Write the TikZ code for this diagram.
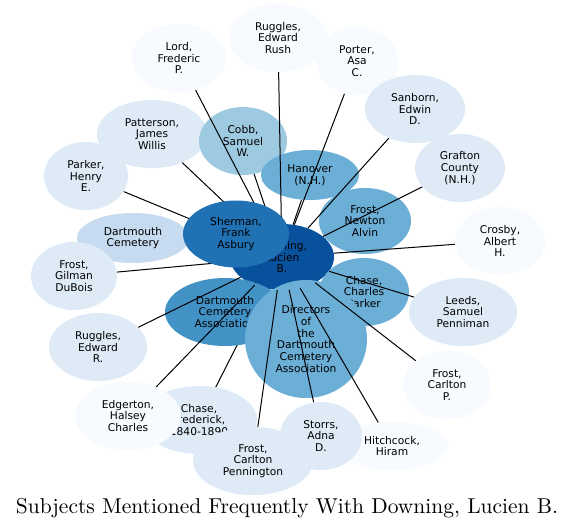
\documentclass[tikz,border=0pt]{standalone}
\usepackage{fontspec}
\usepackage{graphicx}
\usetikzlibrary{shapes.geometric}
\newfontfamily\dvs{DejaVu Sans}
\definecolor{cA}{HTML}{08519C}
\definecolor{cB}{HTML}{2171B5}
\definecolor{cC}{HTML}{4292C6}
\definecolor{cD}{HTML}{6BAED6}
\definecolor{cE}{HTML}{9ECAE1}
\definecolor{cF}{HTML}{C6DBEF}
\definecolor{cG}{HTML}{DEEBF7}
\definecolor{cH}{HTML}{F7FBFF}
\pgfdeclarelayer{bg}\pgfdeclarelayer{n0}
\pgfdeclarelayer{e1}\pgfdeclarelayer{n1}\pgfdeclarelayer{e2}\pgfdeclarelayer{n2}
\pgfdeclarelayer{e3}\pgfdeclarelayer{n3}\pgfdeclarelayer{e4}\pgfdeclarelayer{n4}
\pgfdeclarelayer{e5}\pgfdeclarelayer{n5}\pgfdeclarelayer{e6}\pgfdeclarelayer{n6}
\pgfdeclarelayer{e7}\pgfdeclarelayer{n7}\pgfdeclarelayer{e8}\pgfdeclarelayer{n8}
\pgfdeclarelayer{e9}\pgfdeclarelayer{n9}\pgfdeclarelayer{e10}\pgfdeclarelayer{n10}
\pgfdeclarelayer{e11}\pgfdeclarelayer{n11}\pgfdeclarelayer{e12}\pgfdeclarelayer{n12}
\pgfdeclarelayer{e13}\pgfdeclarelayer{n13}\pgfdeclarelayer{e14}\pgfdeclarelayer{n14}
\pgfdeclarelayer{e15}\pgfdeclarelayer{n15}\pgfdeclarelayer{e16}\pgfdeclarelayer{n16}
\pgfdeclarelayer{e17}\pgfdeclarelayer{n17}\pgfdeclarelayer{e18}\pgfdeclarelayer{n18}
\pgfdeclarelayer{e19}\pgfdeclarelayer{n19}\pgfdeclarelayer{e20}\pgfdeclarelayer{n20}
\pgfdeclarelayer{e21}\pgfdeclarelayer{n21}\pgfdeclarelayer{e22}\pgfdeclarelayer{n22}
\pgfdeclarelayer{e23}\pgfdeclarelayer{n23}\pgfdeclarelayer{e24}\pgfdeclarelayer{n24}
\pgfdeclarelayer{e25}\pgfdeclarelayer{n25}
\pgfsetlayers{bg,n0,e1,n1,e2,n2,e3,n3,e4,n4,e5,n5,e6,n6,e7,n7,e8,n8,e9,n9,e10,n10,e11,n11,e12,n12,e13,n13,e14,n14,e15,n15,e16,n16,e17,n17,e18,n18,e19,n19,e20,n20,e21,n21,e22,n22,e23,n23,e24,n24,e25,n25,main}
\tikzset{
  nd/.style={ellipse, inner sep=0pt, draw=none, align=center, text=black,
    font=\dvs\fontsize{10.7}{11.7}\selectfont},
  edge/.style={draw=black, line width=1pt},
  c1/.style={fill=cA}, c2/.style={fill=cB}, c3/.style={fill=cC}, c4/.style={fill=cD},
  c5/.style={fill=cE}, c6/.style={fill=cF}, c7/.style={fill=cG}, c8/.style={fill=cH}
}
% #1 layer, #2 name, #3 x, #4 y, #5 width, #6 height, #7 colour style, #8 text
\newcommand\subj[8]{%
  \begin{pgfonlayer}{n#1}
    \node[nd,#7,minimum width=#5pt,minimum height=#6pt] (#2) at (#3,#4) {#8};
  \end{pgfonlayer}
  \begin{pgfonlayer}{e#1}
    \draw[edge] (down) -- (#2);
  \end{pgfonlayer}}
\begin{document}
\begin{tikzpicture}[x=1pt,y=-1pt]
\useasboundingbox (0,0) rectangle (576,530);
\begin{pgfonlayer}{bg}
  \fill[white] (0,0) rectangle (576,530);
\end{pgfonlayer}
\begin{pgfonlayer}{n0}
  \node[nd,c1,minimum width=104pt,minimum height=66pt] (down) at (282,257) {Downing,\\Lucien\\B.};
\end{pgfonlayer}
\subj{1}{cf}{199}{420}{116}{68}{c7}{Chase,\\Frederick,\\1840-1890}
\subj{2}{dca}{225}{312}{120}{68}{c3}{Dartmouth\\Cemetery\\Association}
\subj{3}{rr}{98}{347}{98}{68}{c7}{Ruggles,\\Edward\\R.}
\subj{4}{edg}{128}{416}{106}{68}{c8}{Edgerton,\\Halsey\\Charles}
\subj{5}{ccp}{364}{292}{90}{68}{c4}{Chase,\\Charles\\Parker}
\subj{6}{dir}{306}{339}{122}{118}{c4}{Directors\\of\\the\\Dartmouth\\Cemetery\\Association}
\subj{7}{hit}{392}{446}{112}{48}{c8}{Hitchcock,\\Hiram}
\subj{8}{fcpen}{253}{461}{120}{68}{c7}{Frost,\\Carlton\\Pennington}
\subj{9}{sto}{321}{436}{82}{68}{c7}{Storrs,\\Adna\\D.}
\subj{10}{fcp}{447}{385}{88}{68}{c8}{Frost,\\Carlton\\P.}
\subj{11}{lee}{463}{312}{108}{68}{c7}{Leeds,\\Samuel\\Penniman}
\subj{12}{fna}{365}{221}{92}{66}{c4}{Frost,\\Newton\\Alvin}
\subj{13}{gra}{460}{168}{90}{68}{c7}{Grafton\\County\\(N.H.)}
\subj{14}{cro}{500}{241}{90}{68}{c8}{Crosby,\\Albert\\H.}
\subj{15}{dc}{133}{238}{112}{50}{c6}{Dartmouth\\Cemetery}
\subj{16}{fgd}{74}{276}{86}{68}{c7}{Frost,\\Gilman\\DuBois}
\subj{17}{par}{86}{176}{84}{68}{c7}{Parker,\\Henry\\E.}
\subj{18}{pat}{152}{134}{110}{68}{c7}{Patterson,\\James\\Willis}
\subj{19}{cob}{243}{141}{88}{68}{c5}{Cobb,\\Samuel\\W.}
\subj{20}{han}{310}{175}{98}{50}{c4}{Hanover\\(N.H.)}
\subj{21}{lor}{179}{58}{94}{68}{c8}{Lord,\\Frederic\\P.}
\subj{22}{rrr}{278}{38}{98}{68}{c8}{Ruggles,\\Edward\\Rush}
\subj{23}{por}{357}{61}{82}{68}{c8}{Porter,\\Asa\\C.}
\subj{24}{san}{415}{109}{100}{68}{c7}{Sanborn,\\Edwin\\D.}
\subj{25}{she}{236}{234}{106}{67}{c2}{Sherman,\\Frank\\Asbury}
\node[anchor=base, inner sep=0pt] (title) at (287,513)
  {\resizebox{542pt}{!}{Subjects Mentioned Frequently With Downing, Lucien B.}};
\end{tikzpicture}
\end{document}
